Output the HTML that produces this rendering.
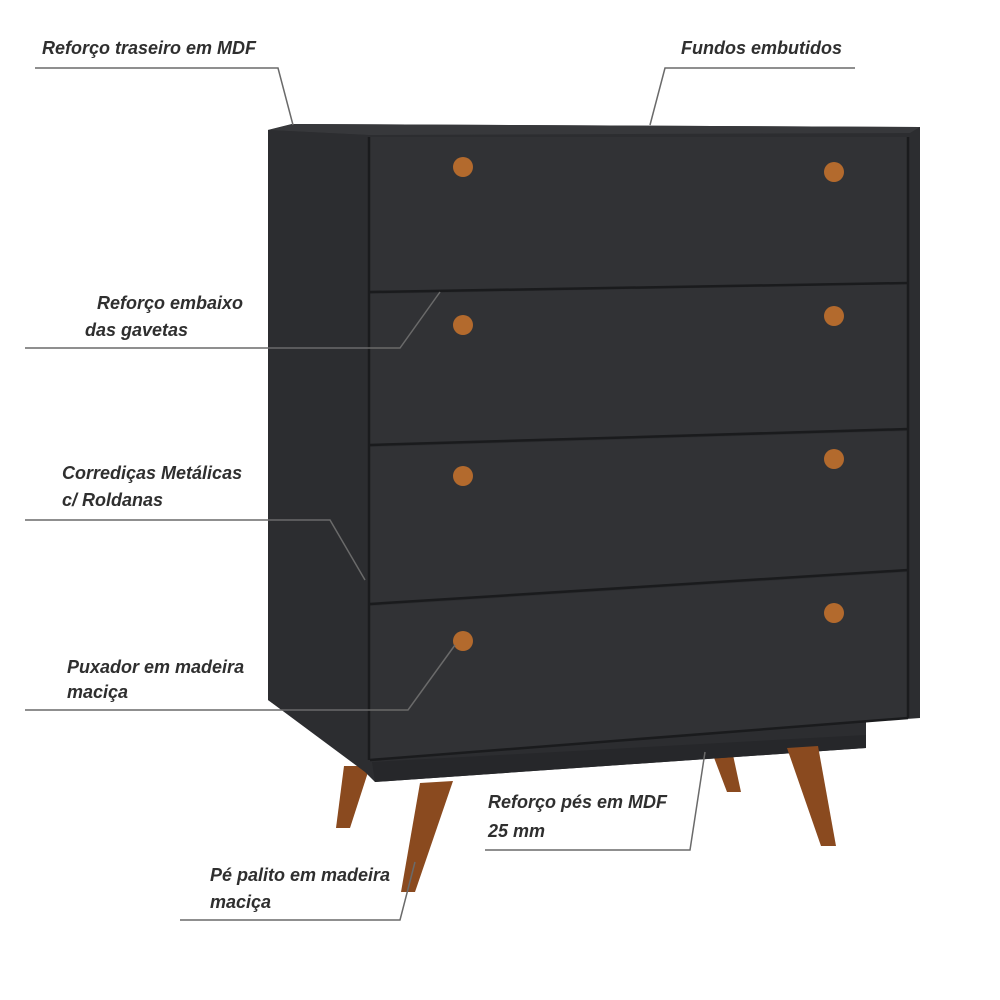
<!DOCTYPE html>
<html><head><meta charset="utf-8"><style>
html,body{margin:0;padding:0;background:#fff;}
svg{display:block}
text{font-family:"Liberation Sans",sans-serif;font-style:italic;font-weight:bold;font-size:18px;fill:#2f2f2f;}
</style></head><body>
<svg width="1000" height="1000" viewBox="0 0 1000 1000">
<rect width="1000" height="1000" fill="#fff"/>
<polygon points="344,766 370,766 350,828 336,828" fill="#8a4a1f"/>
<polygon points="713,755 733,755 741,792 727,792" fill="#8a4a1f"/>
<polygon points="268,130 292,124 920,127 920,718 866,722 866,748 375,782 365,772 268,700" fill="#2c2d30"/>
<polygon points="268,130 292,124 920,127 910,133 368,135" fill="#37383b"/>
<polygon points="268,130 368,135 368,770 268,700" fill="#2c2d30"/>
<polygon points="372,762 866,735 866,748 375,782" fill="#26272a"/>
<polygon points="370,137 908,137 908,282 370,291" fill="#313235"/>
<polygon points="370,294 908,284 908,428 370,444" fill="#313235"/>
<polygon points="370,447 908,431 908,569 370,603" fill="#313235"/>
<polygon points="370,606 908,572 908,718 370,760" fill="#313235"/>
<g stroke="#1a1b1d" stroke-width="2.5" fill="none">
<line x1="370" y1="292" x2="908" y2="283"/>
<line x1="370" y1="445" x2="908" y2="429"/>
<line x1="370" y1="604" x2="908" y2="570"/>
<line x1="369" y1="137" x2="369" y2="760"/>
<line x1="908" y1="137" x2="908" y2="718"/>
<line x1="370" y1="760" x2="908" y2="718"/>
</g>
<g fill="#b36a2d">
<circle cx="463" cy="167" r="10"/><circle cx="834" cy="172" r="10"/>
<circle cx="463" cy="325" r="10"/><circle cx="834" cy="316" r="10"/>
<circle cx="463" cy="476" r="10"/><circle cx="834" cy="459" r="10"/>
<circle cx="463" cy="641" r="10"/><circle cx="834" cy="613" r="10"/>
</g>
<polygon points="420,783 453,781 415,892 401,892" fill="#8a4a1f"/>
<polygon points="787,748 818,746 836,846 821,846" fill="#8a4a1f"/>
<g stroke="#6a6a6a" stroke-width="1.5" fill="none">
<polyline points="35,68 278,68 293,125"/>
<polyline points="855,68 665,68 650,125"/>
<polyline points="25,348 400,348 440,292"/>
<polyline points="25,520 330,520 365,580"/>
<polyline points="25,710 408,710 455,645"/>
<polyline points="485,850 690,850 705,752"/>
<polyline points="180,920 400,920 415,862"/>
</g>
<text x="42" y="54">Reforço traseiro em MDF</text>
<text x="681" y="54">Fundos embutidos</text>
<text x="97" y="309">Reforço embaixo</text>
<text x="85" y="336">das gavetas</text>
<text x="62" y="479">Corrediças Metálicas</text>
<text x="62" y="506">c/ Roldanas</text>
<text x="67" y="673">Puxador em madeira</text>
<text x="67" y="698">maciça</text>
<text x="488" y="808">Reforço pés em MDF</text>
<text x="488" y="837">25 mm</text>
<text x="210" y="881">Pé palito em madeira</text>
<text x="210" y="908">maciça</text>
</svg>
</body></html>
